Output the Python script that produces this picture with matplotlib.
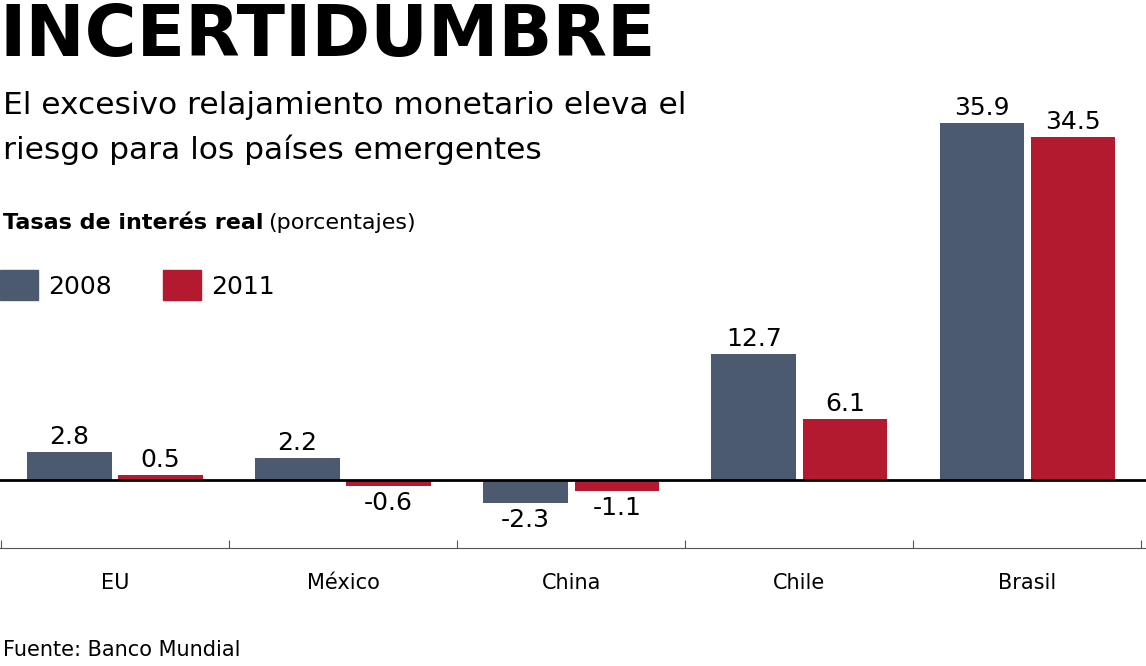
import numpy as np
import matplotlib.pyplot as plt
from matplotlib.patches import Rectangle

paises = ["EU", "México", "China", "Chile", "Brasil"]
v2008 = [2.8, 2.2, -2.3, 12.7, 35.9]
v2011 = [0.5, -0.6, -1.1, 6.1, 34.5]
etiquetas_2008 = ["2.8", "2.2", "-2.3", "12.7", "35.9"]
etiquetas_2011 = ["0.5", "-0.6", "-1.1", "6.1", "34.5"]

c08 = "#4b5a6e"
c11 = "#b3192f"
fn = "DejaVu Sans"

fig = plt.figure(figsize=(11.46, 6.66), dpi=100)
W, H = 1146, 666
# axes: x 0..1146, y 100..548 px
ax = fig.add_axes([0, 1 - 548 / H, 1, 448 / H])
x = np.arange(len(paises))
w = 0.37
ax.bar(x - 0.2, v2008, w, color=c08)
ax.bar(x + 0.2, v2011, w, color=c11)
ax.set_xlim(-0.504, 4.52)
ax.set_ylim(-6.84, 38.2)
ax.axhline(0, color="black", lw=2)

for xs, vals, labs in [(x - 0.2, v2008, etiquetas_2008), (x + 0.2, v2011, etiquetas_2011)]:
    for xi, v, t in zip(xs, vals, labs):
        ax.text(xi, v + (0.3 if v >= 0 else -0.5), t, ha="center",
                va="bottom" if v >= 0 else "top", fontsize=18, family=fn)

for s in ["top", "right", "left"]:
    ax.spines[s].set_visible(False)
ax.spines["bottom"].set_color("#555555")
ax.set_yticks([])
ax.set_xticks(np.arange(-0.5, 5, 1))
ax.set_xticklabels([])
ax.tick_params(axis="x", direction="in", length=6, color="#555555")
for xi, p in zip(x, paises):
    ax.text(xi, -10.4, p, ha="center", va="center", fontsize=15,
            family=fn, clip_on=False)

fig.text(0.0, 1 - 2 / H, "INCERTIDUMBRE", fontsize=51, fontweight="bold",
         family=fn, va="top")
fig.text(0.003, 1 - 105 / H, "El excesivo relajamiento monetario eleva el",
         fontsize=22.5, family=fn, va="center")
fig.text(0.003, 1 - 150 / H, "riesgo para los países emergentes",
         fontsize=22.5, family=fn, va="center")
fig.text(0.003, 1 - 223 / H, "Tasas de interés real", fontsize=16, fontweight="bold",
         family=fn, va="center")
fig.text(268 / W, 1 - 223 / H, "(porcentajes)", fontsize=16, family=fn, va="center")
fig.patches.append(Rectangle((0 / W, 1 - 300 / H), 38 / W, 30 / H,
                             transform=fig.transFigure, color=c08))
fig.text(48 / W, 1 - 287 / H, "2008", fontsize=18, family=fn, va="center")
fig.patches.append(Rectangle((163 / W, 1 - 300 / H), 38 / W, 30 / H,
                             transform=fig.transFigure, color=c11))
fig.text(211 / W, 1 - 287 / H, "2011", fontsize=18, family=fn, va="center")
fig.text(0.003, 1 - 650 / H, "Fuente: Banco Mundial", fontsize=15, family=fn, va="center")

fig.savefig("out.png", dpi=100)
